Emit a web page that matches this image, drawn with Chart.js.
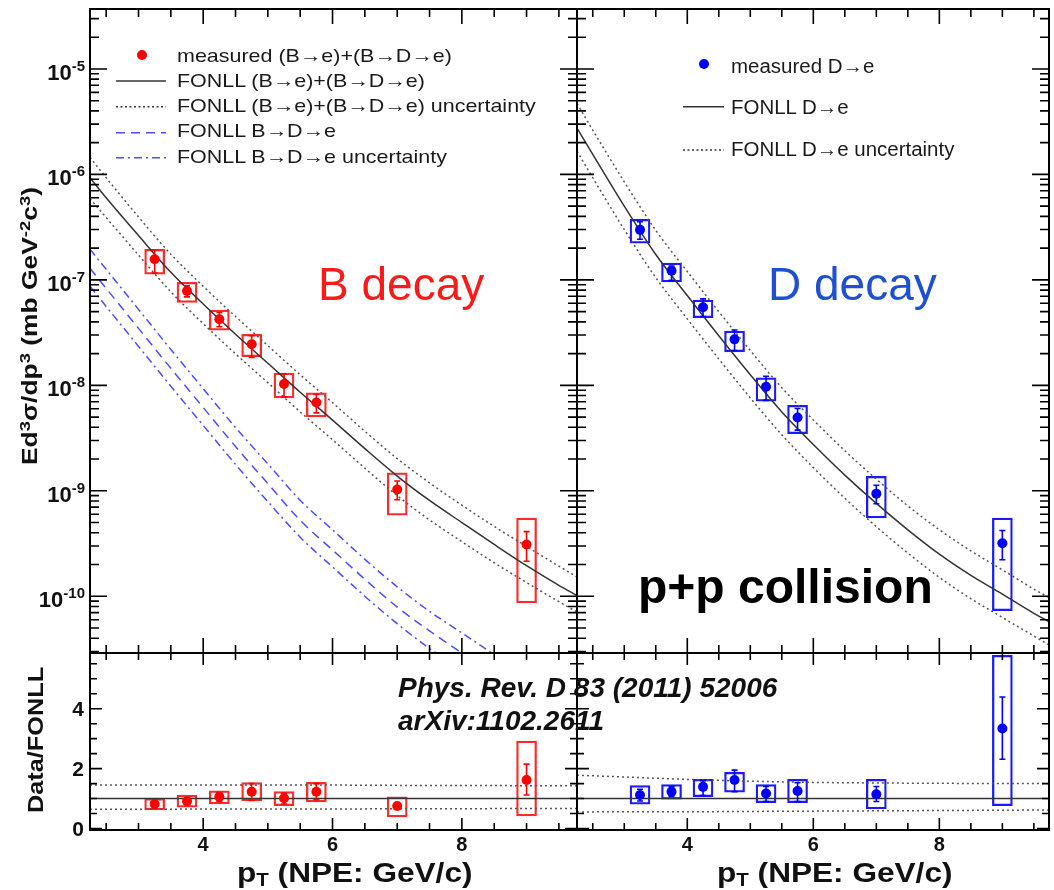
<!DOCTYPE html>
<html>
<head>
<meta charset="utf-8">
<script src="https://cdn.jsdelivr.net/npm/chart.js@4.4.1/dist/chart.umd.min.js"></script>
<style>
  html, body { margin: 0; padding: 0; background: #fff; }
  body { position: relative; width: 1054px; height: 890px; overflow: hidden;
         font-family: "Liberation Sans", Arial, Helvetica, sans-serif; color: #111; }
  canvas { position: absolute; left: 0; top: 0; }
  .txt { position: absolute; white-space: nowrap; line-height: 1; }
  .up { position: relative; top: -0.45em; font-size: 0.7em; }
  .dn { position: relative; top: 0.25em; font-size: 0.65em; }
  .leg1 { font-size: 18.5px; transform: scaleX(1.16); transform-origin: left; color: #1a1a1a; }
  .leg2 { font-size: 19.5px; transform: scaleX(1.05); transform-origin: left; color: #1a1a1a; }
  .axt { font-weight: bold; font-size: 22px; }
  .xt { font-weight: bold; font-size: 27px; transform: scaleX(1.17); transform-origin: left; }
  .ref { font-weight: bold; font-style: italic; font-size: 28px; }
</style>
</head>
<body>
<canvas id="bTop" width="1054" height="890"></canvas>
<canvas id="dTop" width="1054" height="890"></canvas>
<canvas id="bRatio" width="1054" height="890"></canvas>
<canvas id="dRatio" width="1054" height="890"></canvas>

<svg width="1054" height="890" style="position:absolute;left:0;top:0">
  <circle cx="142" cy="55" r="5" fill="#ff0000"/>
  <line x1="116" y1="81" x2="166" y2="81" stroke="#333" stroke-width="1.5"/>
  <line x1="116" y1="106.7" x2="166" y2="106.7" stroke="#333" stroke-width="1.5" stroke-dasharray="2 2.5"/>
  <line x1="116" y1="132.7" x2="166" y2="132.7" stroke="#4d4dff" stroke-width="1.5" stroke-dasharray="9 6"/>
  <line x1="116" y1="157.7" x2="166" y2="157.7" stroke="#4d4dff" stroke-width="1.5" stroke-dasharray="8 4 2 4"/>
  <circle cx="704" cy="64" r="5" fill="#0000ff"/>
  <line x1="683" y1="106.7" x2="724" y2="106.7" stroke="#333" stroke-width="1.5"/>
  <line x1="683" y1="150" x2="724" y2="150" stroke="#333" stroke-width="1.5" stroke-dasharray="2 2.5"/>
</svg>

<div class="txt leg1" style="left:177px;top:46.6px">measured (B→e)+(B→D→e)</div>
<div class="txt leg1" style="left:177px;top:71.9px">FONLL (B→e)+(B→D→e)</div>
<div class="txt leg1" style="left:177px;top:96.9px">FONLL (B→e)+(B→D→e) uncertainty</div>
<div class="txt leg1" style="left:177px;top:122.3px">FONLL B→D→e</div>
<div class="txt leg1" style="left:177px;top:147.6px">FONLL B→D→e uncertainty</div>

<div class="txt leg2" style="left:731px;top:56.5px">measured D→e</div>
<div class="txt leg2" style="left:731px;top:97.8px">FONLL D→e</div>
<div class="txt leg2" style="left:731px;top:139.8px">FONLL D→e uncertainty</div>

<div class="txt" style="left:318px;top:261px;font-size:46px;color:#ff1a1a">B decay</div>
<div class="txt" style="left:768px;top:261px;font-size:46px;color:#1e50d2">D decay</div>
<div class="txt" style="left:638px;top:563px;font-size:48px;font-weight:bold;color:#000">p+p collision</div>
<div class="txt ref" style="left:398px;top:674px">Phys. Rev. D 83 (2011) 52006</div>
<div class="txt ref" style="left:398px;top:707px">arXiv:1102.2611</div>

<div class="txt axt" style="left:30px;top:326px;transform:translate(-50%,-50%) rotate(-90deg) scaleX(1.2)">Ed<span class="up">3</span>σ/dp<span class="up">3</span> (mb GeV<span class="up">-2</span>c<span class="up">3</span>)</div>
<div class="txt axt" style="left:36px;top:740px;transform:translate(-50%,-50%) rotate(-90deg) scaleX(1.15)">Data/FONLL</div>
<div class="txt xt" style="left:237px;top:860px">p<span class="dn">T</span> (NPE: GeV/c)</div>
<div class="txt xt" style="left:717px;top:860px">p<span class="dn">T</span> (NPE: GeV/c)</div>

<script>
// ---- data ----
const ptBins = [3.25, 3.75, 4.25, 4.75, 5.25, 5.75, 7, 9];

// B decay: measured (B->e)+(B->D->e)
const bMeas   = [1.57e-7, 7.85e-8, 4.23e-8, 2.45e-8, 1.03e-8, 6.89e-9, 1.03e-9, 3.1e-10];
const bStatHi = [1.92e-7, 8.8e-8, 4.9e-8, 2.95e-8, 1.28e-8, 8.2e-9, 1.24e-9, 4.1e-10];
const bStatLo = [1.16e-7, 6.9e-8, 3.6e-8, 1.84e-8, 7.78e-9, 5.48e-9, 8.24e-10, 2.15e-10];
const bSysHi  = [1.95e-7, 9.48e-8, 5.18e-8, 3.04e-8, 1.31e-8, 8.5e-9, 1.48e-9, 5.52e-10];
const bSysLo  = [1.13e-7, 6.12e-8, 3.34e-8, 1.87e-8, 7.6e-9, 5.02e-9, 5.89e-10, 8.67e-11];

// D decay: measured D->e
const dMeas   = [2.98e-7, 1.22e-7, 5.5e-8, 2.73e-8, 9.7e-9, 4.95e-9, 9.4e-10, 3.19e-10];
const dStatHi = [3.57e-7, 1.35e-7, 6.6e-8, 3.35e-8, 1.22e-8, 6.04e-9, 1.13e-9, 4.2e-10];
const dStatLo = [2.43e-7, 9.9e-8, 4.5e-8, 2.14e-8, 7.2e-9, 3.76e-9, 7.55e-10, 2.22e-10];
const dSysHi  = [3.76e-7, 1.44e-7, 6.44e-8, 3.27e-8, 1.18e-8, 6.48e-9, 1.37e-9, 5.52e-10];
const dSysLo  = [2.23e-7, 9.55e-8, 4.38e-8, 2.08e-8, 7.08e-9, 3.49e-9, 5.52e-10, 7.3e-11];

// FONLL curves
const curvePt   = [2.25, 2.5, 3, 3.5, 4, 4.5, 5, 5.5, 6, 6.5, 7, 7.5, 8, 8.5, 9, 9.5, 9.8];
const fonllB    = [9.3e-7, 6.0e-7, 2.63e-7, 1.18e-7, 5.9e-8, 3.05e-8, 1.62e-8, 8.6e-9, 4.68e-9, 2.51e-9, 1.38e-9, 8.1e-10, 5.0e-10, 3.1e-10, 1.95e-10, 1.27e-10, 1.0e-10];
const fonllBHi  = [1.45e-6, 9.3e-7, 3.95e-7, 1.75e-7, 8.7e-8, 4.5e-8, 2.38e-8, 1.26e-8, 6.85e-9, 3.67e-9, 2.02e-9, 1.19e-9, 7.3e-10, 4.6e-10, 2.97e-10, 1.93e-10, 1.5e-10];
const fonllBLo  = [5.9e-7, 3.9e-7, 1.72e-7, 7.7e-8, 3.85e-8, 1.99e-8, 1.06e-8, 5.6e-9, 3.05e-9, 1.64e-9, 9.0e-10, 5.3e-10, 3.3e-10, 2.08e-10, 1.35e-10, 8.9e-11, 7.0e-11];
const fonllBD   = [1.29e-7, 8.3e-8, 3.47e-8, 1.45e-8, 6.17e-9, 2.63e-9, 1.17e-9, 5.25e-10, 2.75e-10, 1.45e-10, 7.9e-11, 4.7e-11, 2.9e-11, 1.8e-11, 1.17e-11, 7.9e-12, 6.3e-12];
const fonllBDHi = [1.95e-7, 1.26e-7, 5.25e-8, 2.19e-8, 9.3e-9, 3.98e-9, 1.8e-9, 8.13e-10, 4.27e-10, 2.24e-10, 1.23e-10, 7.2e-11, 4.5e-11, 2.8e-11, 1.8e-11, 1.2e-11, 9.6e-12];
const fonllBDLo = [8.7e-8, 5.6e-8, 2.34e-8, 9.8e-9, 4.17e-9, 1.78e-9, 7.9e-10, 3.63e-10, 1.9e-10, 1.0e-10, 5.5e-11, 3.2e-11, 2.0e-11, 1.26e-11, 8.1e-12, 5.3e-12, 4.2e-12];
const fonllD    = [2.75e-6, 1.55e-6, 5.0e-7, 1.74e-7, 7.1e-8, 2.95e-8, 1.26e-8, 5.6e-9, 2.75e-9, 1.41e-9, 7.6e-10, 4.27e-10, 2.51e-10, 1.58e-10, 1.05e-10, 6.9e-11, 5.5e-11];
const fonllDHi  = [4.7e-6, 2.63e-6, 8.5e-7, 2.95e-7, 1.2e-7, 5.0e-8, 2.14e-8, 9.5e-9, 4.7e-9, 2.4e-9, 1.29e-9, 7.2e-10, 4.27e-10, 2.7e-10, 1.78e-10, 1.17e-10, 9.3e-11];
const fonllDLo  = [1.66e-6, 9.3e-7, 3.0e-7, 1.05e-7, 4.27e-8, 1.78e-8, 7.6e-9, 3.4e-9, 1.66e-9, 8.5e-10, 4.57e-10, 2.57e-10, 1.51e-10, 9.5e-11, 6.3e-11, 4.2e-11, 3.3e-11];

// Data/FONLL
const rB       = [0.82, 0.91, 1.06, 1.23, 1.01, 1.23, 0.75, 1.62];
const rBStatHi = [0.95, 1.02, 1.2, 1.5, 1.18, 1.5, 0.85, 2.15];
const rBStatLo = [0.68, 0.8, 0.9, 0.94, 0.82, 0.96, 0.65, 1.12];
const rBSysHi  = [1.0, 1.12, 1.26, 1.53, 1.23, 1.54, 1.06, 2.92];
const rBSysLo  = [0.62, 0.71, 0.82, 0.92, 0.76, 0.89, 0.39, 0.42];
const rD       = [1.12, 1.23, 1.39, 1.62, 1.17, 1.25, 1.14, 3.34];
const rDStatHi = [1.31, 1.39, 1.6, 1.95, 1.4, 1.53, 1.4, 4.39];
const rDStatLo = [0.92, 1.07, 1.1, 1.23, 0.9, 0.9, 0.9, 2.31];
const rDSysHi  = [1.43, 1.47, 1.64, 1.88, 1.47, 1.64, 1.64, 5.78];
const rDSysLo  = [0.81, 0.98, 1.06, 1.21, 0.86, 0.86, 0.65, 0.76];

const bandPt   = [2.25, 3, 4, 5, 6, 7, 8, 9, 9.8];
const bandOne  = [1, 1, 1, 1, 1, 1, 1, 1, 1];
const bandBHi  = [1.45, 1.45, 1.45, 1.45, 1.45, 1.44, 1.44, 1.43, 1.43];
const bandBLo  = [0.64, 0.64, 0.65, 0.65, 0.65, 0.66, 0.66, 0.67, 0.67];
const bandDHi  = [1.78, 1.72, 1.64, 1.58, 1.54, 1.52, 1.51, 1.5, 1.5];
const bandDLo  = [0.55, 0.56, 0.56, 0.57, 0.58, 0.59, 0.6, 0.61, 0.62];

// axis ticks
const xMajorTicks = [4, 6, 8];
const xMinorTicks = [2.5, 3, 3.5, 4.5, 5, 5.5, 6.5, 7, 7.5, 8.5, 9, 9.5];
const logDecades = [-10, -9, -8, -7, -6, -5];
const ratioMajorTicks = [0, 2, 4];
const ratioMinorTicks = [0.5, 1, 1.5, 2.5, 3, 3.5, 4.5, 5, 5.5];

const FONT = '"Liberation Sans", Arial, Helvetica, sans-serif';
Chart.defaults.font.family = FONT;

const RED = '#ff0000', RED_BOX = '#ff2a2a', BLUE = '#0000ff', BLUE_BOX = '#1a1aff';
const LINE_GREY = '#333333', DOT_GREY = '#555555', FONLL_BLUE = '#4d4dff';

const xy = (xs, ys) => xs.map((x, i) => ({ x: x, y: ys[i] }));

// error bars with small caps, read from dataset.errLo / dataset.errHi
const errorBars = {
  id: 'errorBars',
  afterDatasetsDraw(chart) {
    const { ctx, chartArea: a } = chart;
    const ys = chart.scales.y;
    ctx.save();
    ctx.beginPath();
    ctx.rect(a.left, a.top, a.right - a.left, a.bottom - a.top);
    ctx.clip();
    chart.data.datasets.forEach((ds, i) => {
      if (!ds.errLo) return;
      const meta = chart.getDatasetMeta(i);
      ctx.strokeStyle = ds.backgroundColor;
      ctx.lineWidth = 1.6;
      ctx.beginPath();
      meta.data.forEach((pt, j) => {
        const y1 = ys.getPixelForValue(ds.errHi[j]);
        const y2 = ys.getPixelForValue(ds.errLo[j]);
        ctx.moveTo(pt.x, y1); ctx.lineTo(pt.x, y2);
        ctx.moveTo(pt.x - 3, y1); ctx.lineTo(pt.x + 3, y1);
        ctx.moveTo(pt.x - 3, y2); ctx.lineTo(pt.x + 3, y2);
      });
      ctx.stroke();
    });
    ctx.restore();
  }
};

// ROOT style frame: inward ticks on all four sides, labels outside
const rootFrame = {
  id: 'rootFrame',
  afterDraw(chart, args, opts) {
    const { ctx, chartArea: a } = chart;
    const xs = chart.scales.x, ys = chart.scales.y;
    const isLog = opts.kind === 'log';
    ctx.save();
    ctx.strokeStyle = '#000';
    ctx.lineWidth = 1.6;
    ctx.beginPath();
    const vTick = (v, len) => {
      const px = xs.getPixelForValue(v);
      ctx.moveTo(px, a.bottom); ctx.lineTo(px, a.bottom - len);
      ctx.moveTo(px, a.top); ctx.lineTo(px, a.top + len);
    };
    const hTick = (v, len) => {
      const py = ys.getPixelForValue(v);
      if (py < a.top - 0.5 || py > a.bottom + 0.5) return;
      ctx.moveTo(a.left, py); ctx.lineTo(a.left + len, py);
      ctx.moveTo(a.right, py); ctx.lineTo(a.right - len, py);
    };
    xMajorTicks.forEach(v => vTick(v, isLog ? 15 : 12));
    xMinorTicks.forEach(v => vTick(v, isLog ? 8 : 7));
    if (isLog) {
      for (let k = -11; k <= -5; k++) {
        hTick(Math.pow(10, k), 17);
        for (let m = 2; m <= 9; m++) hTick(m * Math.pow(10, k), 9);
      }
    } else {
      ratioMajorTicks.forEach(v => hTick(v, 12));
      ratioMinorTicks.forEach(v => hTick(v, 7));
    }
    ctx.stroke();
    ctx.lineWidth = 2;
    ctx.strokeRect(a.left, a.top, a.right - a.left, a.bottom - a.top);

    ctx.fillStyle = '#111';
    if (opts.yLabels && isLog) {
      logDecades.forEach(k => {
        const py = ys.getPixelForValue(Math.pow(10, k));
        const ex = String(k);
        ctx.font = 'bold 15px ' + FONT;
        const ew = ctx.measureText(ex).width;
        ctx.textAlign = 'left';
        ctx.fillText(ex, 85 - ew, py + 2);
        ctx.font = 'bold 22px ' + FONT;
        ctx.textAlign = 'right';
        ctx.fillText('10', 85 - ew, py + 11);
      });
    }
    if (opts.yLabels && !isLog) {
      ctx.font = 'bold 21px ' + FONT;
      ctx.textAlign = 'right';
      ratioMajorTicks.forEach(v => ctx.fillText(String(v), a.left - 6, ys.getPixelForValue(v) + 7.5));
    }
    if (opts.xLabels) {
      ctx.font = 'bold 20px ' + FONT;
      ctx.textAlign = 'center';
      xMajorTicks.forEach(v => ctx.fillText(String(v), xs.getPixelForValue(v), 851));
    }
    ctx.restore();
  }
};

function boxes(xs, lo, hi, color) {
  return {
    type: 'bar', order: 2,
    data: xs.map((x, i) => ({ x: x, y: [lo[i], hi[i]] })),
    backgroundColor: 'rgba(0,0,0,0)', borderColor: color, borderWidth: 1.6,
    borderSkipped: false, barThickness: 20, grouped: false
  };
}
function points(xs, ys, lo, hi, color) {
  return {
    type: 'scatter', order: 0, data: xy(xs, ys),
    backgroundColor: color, borderWidth: 0, pointRadius: 5, errLo: lo, errHi: hi
  };
}
function curve(xs, ys, color, dash, width) {
  return {
    type: 'line', order: 1, data: xy(xs, ys), borderColor: color,
    borderWidth: width || 1.5, borderDash: dash || [], pointRadius: 0,
    fill: false, cubicInterpolationMode: 'monotone'
  };
}

function makeChart(id, pad, xMax, yScale, datasets, frame) {
  return new Chart(document.getElementById(id), {
    type: 'scatter',
    data: { datasets: datasets },
    options: {
      responsive: false, animation: false, events: [],
      layout: { padding: pad },
      plugins: { legend: { display: false }, tooltip: { enabled: false }, rootFrame: frame },
      scales: {
        x: { type: 'linear', display: false, min: 2.25, max: xMax, offset: false },
        y: Object.assign({ display: false }, yScale)
      }
    },
    plugins: [errorBars, rootFrame]
  });
}

const logY = { type: 'logarithmic', min: 2.9e-11, max: 3.7e-5 };
const ratioY = { type: 'linear', min: -0.05, max: 5.86 };
const DOTS = [2, 3];

makeChart('bTop', { left: 90, top: 9, right: 477, bottom: 237 }, 9.78, logY, [
  boxes(ptBins, bSysLo, bSysHi, RED_BOX),
  curve(curvePt, fonllBHi, DOT_GREY, DOTS),
  curve(curvePt, fonllB, LINE_GREY),
  curve(curvePt, fonllBLo, DOT_GREY, DOTS),
  curve(curvePt, fonllBDHi, FONLL_BLUE, [8, 4, 2, 4]),
  curve(curvePt, fonllBD, FONLL_BLUE, [9, 6]),
  curve(curvePt, fonllBDLo, FONLL_BLUE, [8, 4, 2, 4]),
  points(ptBins, bMeas, bStatLo, bStatHi, RED)
], { kind: 'log', yLabels: true, xLabels: false });

makeChart('dTop', { left: 577, top: 9, right: 1, bottom: 237 }, 9.74, logY, [
  boxes(ptBins, dSysLo, dSysHi, BLUE_BOX),
  curve(curvePt, fonllDHi, DOT_GREY, DOTS),
  curve(curvePt, fonllD, LINE_GREY),
  curve(curvePt, fonllDLo, DOT_GREY, DOTS),
  points(ptBins, dMeas, dStatLo, dStatHi, BLUE)
], { kind: 'log', yLabels: false, xLabels: false });

makeChart('bRatio', { left: 90, top: 653, right: 477, bottom: 60 }, 9.78, ratioY, [
  boxes(ptBins, rBSysLo, rBSysHi, RED_BOX),
  curve(bandPt, bandBHi, DOT_GREY, DOTS),
  curve(bandPt, bandOne, LINE_GREY),
  curve(bandPt, bandBLo, DOT_GREY, DOTS),
  points(ptBins, rB, rBStatLo, rBStatHi, RED)
], { kind: 'ratio', yLabels: true, xLabels: true });

makeChart('dRatio', { left: 577, top: 653, right: 1, bottom: 60 }, 9.74, ratioY, [
  boxes(ptBins, rDSysLo, rDSysHi, BLUE_BOX),
  curve(bandPt, bandDHi, DOT_GREY, DOTS),
  curve(bandPt, bandOne, LINE_GREY),
  curve(bandPt, bandDLo, DOT_GREY, DOTS),
  points(ptBins, rD, rDStatLo, rDStatHi, BLUE)
], { kind: 'ratio', yLabels: false, xLabels: true });
</script>
</body>
</html>
